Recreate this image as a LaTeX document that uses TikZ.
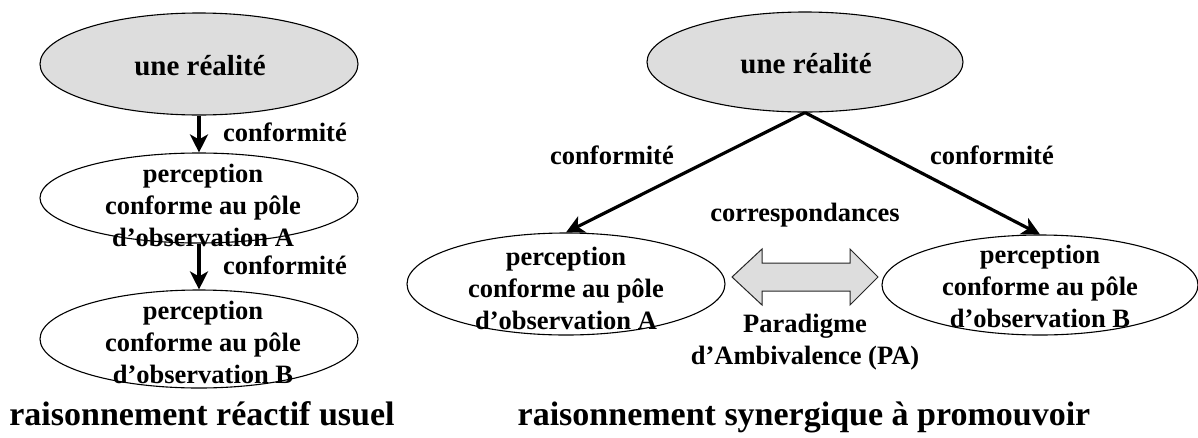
\documentclass[tikz,border=0pt]{standalone}
\usepackage{fontspec}
\setmainfont{Liberation Serif}
\usetikzlibrary{shapes.geometric,arrows.meta,calc}
\definecolor{shade}{HTML}{DDDDDD}
\tikzset{
  ell/.style={ellipse, draw, line width=1.1pt, inner sep=0pt},
  txt/.style={font=\fontsize{26.5}{32}\selectfont\bfseries, align=center, inner sep=0pt},
  big/.style={font=\fontsize{29}{34}\selectfont\bfseries, inner sep=0pt, anchor=base},
  lbl/.style={font=\fontsize{26.5}{32}\selectfont\bfseries, inner sep=0pt, anchor=base},
  captext/.style={font=\fontsize{34}{40}\selectfont\bfseries, inner sep=0pt, anchor=base},
  flow/.style={line width=3.2pt, -{Stealth[length=18pt,width=18pt,inset=5pt]}},
  twohead/.style={draw=black!85, line width=1pt, fill=shade},
}
\begin{document}
\begin{tikzpicture}[x=1pt,y=-1pt]
\useasboundingbox (0,0) rectangle (1198,437);

% ---------- left: raisonnement reactif usuel ----------
\node[ell, fill=shade, minimum width=318pt, minimum height=102pt] (L0) at (199,64) {};
\node[big] (L0t) at (200,75) {une réalité};
\node[ell, minimum width=318pt, minimum height=90pt] (L1) at (199,198) {};
\node[txt] (L1t) at (203,205) {perception\\conforme au pôle\\d’observation A};
\node[ell, minimum width=318pt, minimum height=98pt] (L2) at (199,339) {};
\node[txt] (L2t) at (203,342) {perception\\conforme au pôle\\d’observation B};

\draw[flow] (L0.south) -- (L1.north);
\draw[flow] (L1.south) -- (L2.north);
\node[lbl] (c1) at (285,141) {conformité};
\node[lbl] (c2) at (285,274) {conformité};

\node[captext] (capL) at (202,425) {raisonnement réactif usuel};

% ---------- right: raisonnement synergique ----------
\node[ell, fill=shade, minimum width=316pt, minimum height=100pt] (R0) at (805,62) {};
\node[big] (R0t) at (806,73) {une réalité};
\node[ell, minimum width=318pt, minimum height=102pt] (RA) at (566,284) {};
\node[txt] (RAt) at (566,288) {perception\\conforme au pôle\\d’observation A};
\node[ell, minimum width=316pt, minimum height=100pt] (RB) at (1040,285) {};
\node[txt] (RBt) at (1040,286) {perception\\conforme au pôle\\d’observation B};

\draw[flow] (R0.south) -- (RA.north);
\draw[flow] (R0.south) -- (RB.north);
\node[lbl] (c3) at (612,164) {conformité};
\node[lbl] (c4) at (992,164) {conformité};

% double arrow (correspondances)
\coordinate (dm) at (805,277);
\draw[twohead] ($(dm)+(-73,0)$) -- ($(dm)+(-43,-28)$) -- ($(dm)+(-43,-14)$)
  -- ($(dm)+(45,-14)$) -- ($(dm)+(45,-28)$) -- ($(dm)+(73,0)$)
  -- ($(dm)+(45,28)$) -- ($(dm)+(45,14)$) -- ($(dm)+(-43,14)$)
  -- ($(dm)+(-43,28)$) -- cycle;
\node[lbl] (corr) at (805,221) {correspondances};
\node[txt] (pa) at (805,342) {Paradigme\\d’Ambivalence (PA)};

\node[captext] (capR) at (804,425) {raisonnement synergique à promouvoir};
\end{tikzpicture}
\end{document}
